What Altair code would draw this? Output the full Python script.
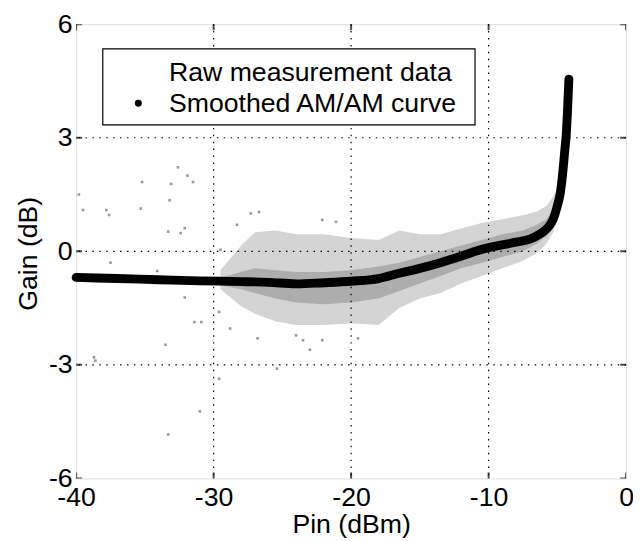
import altair as alt
import pandas as pd

# ---------------- data ----------------
x_ticks = [-40, -30, -20, -10, 0]
y_ticks = [-6, -3, 0, 3, 6]
x_grid = [-30, -20, -10]
y_grid = [-3, 0, 3]

# smoothed AM/AM curve (Pin dBm, Gain dB)
curve_pin = [-40, -37, -34, -31, -28, -26, -24, -22, -20, -18, -16.5, -15, -13.5,
             -12, -10.5, -9, -8, -7, -6.3, -5.7, -5.3, -5.0, -4.78, -4.6, -4.45,
             -4.35, -4.25, -4.16]
curve_gain = [-0.69, -0.72, -0.75, -0.78, -0.80, -0.82, -0.86, -0.83, -0.79, -0.72,
              -0.58, -0.45, -0.30, -0.13, 0.05, 0.17, 0.24, 0.32, 0.45, 0.62, 0.85,
              1.2, 1.55, 2.1, 2.7, 3.1, 3.8, 4.55]

# envelope of the dense raw-measurement cloud
band_pin = [-29.5, -28, -27, -25.5, -24, -22, -20, -18, -16.5, -15, -13.5, -12,
            -10.5, -9, -7.5, -6.5, -5.8, -5.3, -4.9]
outer_hi = [-0.5, 0.15, 0.5, 0.55, 0.45, 0.45, 0.35, 0.3, 0.55, 0.45, 0.45, 0.6,
            0.75, 0.85, 0.95, 1.05, 1.2, 1.45, 1.7]
outer_lo = [-1.0, -1.45, -1.65, -1.85, -1.95, -1.95, -1.9, -1.95, -1.5, -1.25, -1.1,
            -0.85, -0.65, -0.45, -0.25, -0.05, 0.2, 0.5, 1.1]
inner_hi = [-0.7, -0.55, -0.45, -0.5, -0.55, -0.55, -0.5, -0.4, -0.3, -0.15, 0.0,
            0.15, 0.3, 0.45, 0.55, 0.7, 0.85, 1.1, 1.5]
inner_lo = [-0.9, -1.0, -1.1, -1.25, -1.35, -1.4, -1.35, -1.25, -1.05, -0.85, -0.65,
            -0.45, -0.3, -0.15, 0.0, 0.2, 0.4, 0.7, 1.2]

# sparse raw-measurement points outside the dense cloud
raw_pin = [-39.8, -39.5, -37.8, -37.6, -35.2, -35.3, -32.6, -31.9, -31.5, -33.1,
           -33.2, -33.3, -32.4, -32.1, -37.5, -34.1, -29.5, -32.1, -31.4, -30.9,
           -29.6, -33.5, -38.7, -38.6, -31.0, -33.3, -29.6, -27.3, -26.7, -22.1,
           -21.1, -24.0, -23.5, -26.8, -22.1, -28.8, -25.4, -28.3, -23.0, -19.5]
raw_gain = [1.5, 1.09, 1.09, 0.96, 1.83, 1.13, 2.22, 2.0, 1.83, 1.78,
            1.35, 0.52, 0.48, 0.61, -0.3, -0.52, 0.04, -1.22, -1.87, -1.87,
            -1.6, -2.47, -2.8, -2.89, -4.23, -4.84, -3.37, 1.0, 1.04, 0.83,
            0.78, -2.22, -2.35, -2.3, -2.35, -2.04, -3.1, 0.7, -2.6, -2.3]

legend_labels = ["Raw measurement data", "Smoothed AM/AM curve"]

FONT = "Liberation Sans"
AX_FS = 27
LEG_FS = 27

curve_df = pd.DataFrame({"pin": curve_pin, "gain": curve_gain})
band_df = pd.DataFrame({"pin": band_pin, "ohi": outer_hi, "olo": outer_lo,
                        "ihi": inner_hi, "ilo": inner_lo})
raw_df = pd.DataFrame({"pin": raw_pin, "gain": raw_gain})
xg_df = pd.DataFrame({"v": x_grid})
yg_df = pd.DataFrame({"v": y_grid})
xt_df = pd.DataFrame({"v": x_ticks})
yt_df = pd.DataFrame({"v": y_ticks})
one = pd.DataFrame({"a": [0]})

xscale = alt.Scale(domain=[-40, 0], nice=False, zero=False)
yscale = alt.Scale(domain=[-6, 6], nice=False, zero=False)

xaxis = alt.Axis(values=x_ticks, title="Pin (dBm)", grid=False, ticks=False, domain=False,
                 labelFont=FONT, labelFontSize=AX_FS, labelColor="black", labelPadding=6,
                 labelFlush=False, labelExpr="'' + datum.value",
                 titleFont=FONT, titleFontSize=AX_FS, titleFontWeight="normal", titleColor="black",
                 titleBaseline="alphabetic", titleY=55)
yaxis = alt.Axis(values=y_ticks, title="Gain (dB)", grid=False, ticks=False, domain=False,
                 labelFont=FONT, labelFontSize=AX_FS, labelColor="black", labelPadding=4,
                 labelFlush=False, labelExpr="'' + datum.value",
                 titleFont=FONT, titleFontSize=AX_FS, titleFontWeight="normal", titleColor="black",
                 titleBaseline="middle", titleX=-48, titleY=232)

outer = alt.Chart(band_df).mark_area(color="#d4d4d4").encode(
    x=alt.X("pin:Q", scale=xscale, axis=xaxis),
    y=alt.Y("ohi:Q", scale=yscale, axis=yaxis),
    y2="olo:Q",
)
inner = alt.Chart(band_df).mark_area(color="#adadad").encode(
    x=alt.X("pin:Q", scale=xscale),
    y=alt.Y("ihi:Q", scale=yscale),
    y2="ilo:Q",
)
raw = alt.Chart(raw_df).mark_square(color="#9a9a9a", size=7, opacity=1).encode(
    x=alt.X("pin:Q", scale=xscale),
    y=alt.Y("gain:Q", scale=yscale),
)
vgrid = alt.Chart(xg_df).mark_rule(color="black", strokeWidth=1.2, strokeDash=[1.5, 5.5]).encode(
    x=alt.X("v:Q", scale=xscale)
)
hgrid = alt.Chart(yg_df).mark_rule(color="black", strokeWidth=1.2, strokeDash=[1.5, 5.5]).encode(
    y=alt.Y("v:Q", scale=yscale)
)
curve = alt.Chart(curve_df).mark_line(color="black", strokeWidth=9, strokeCap="round",
                                      strokeJoin="round", interpolate="monotone").encode(
    x=alt.X("pin:Q", scale=xscale),
    y=alt.Y("gain:Q", scale=yscale),
)
# inward ticks on all four sides
xt_bot = alt.Chart(xt_df).mark_tick(color="black", thickness=2, size=12, clip=True).encode(
    x=alt.X("v:Q", scale=xscale), y=alt.datum(-6, scale=yscale)
)
xt_top = alt.Chart(xt_df).mark_tick(color="black", thickness=2, size=12, clip=True).encode(
    x=alt.X("v:Q", scale=xscale), y=alt.datum(6, scale=yscale)
)
yt_left = alt.Chart(yt_df).mark_tick(color="black", thickness=2, size=12, clip=True,
                                     orient="horizontal").encode(
    y=alt.Y("v:Q", scale=yscale), x=alt.datum(-40, scale=xscale)
)
yt_right = alt.Chart(yt_df).mark_tick(color="black", thickness=2, size=12, clip=True,
                                      orient="horizontal").encode(
    y=alt.Y("v:Q", scale=yscale), x=alt.datum(0, scale=xscale)
)

# legend box
leg_box = alt.Chart(one).mark_rect(fill="white", stroke="black", strokeWidth=1.2).encode(
    x=alt.value(27), x2=alt.value(404), y=alt.value(25), y2=alt.value(102)
)
leg_t1 = alt.Chart(one).mark_text(align="left", baseline="alphabetic", font=FONT,
                                  fontSize=LEG_FS, color="black").encode(
    x=alt.value(94), y=alt.value(58), text=alt.value(legend_labels[0])
)
leg_t2 = alt.Chart(one).mark_text(align="left", baseline="alphabetic", font=FONT,
                                  fontSize=LEG_FS, color="black").encode(
    x=alt.value(94), y=alt.value(89), text=alt.value(legend_labels[1])
)
leg_dot = alt.Chart(one).mark_circle(color="black", size=50, opacity=1).encode(
    x=alt.value(63), y=alt.value(80)
)

chart = alt.layer(
    outer, inner, raw, vgrid, hgrid, curve, xt_bot, xt_top, yt_left, yt_right,
    leg_box, leg_t1, leg_t2, leg_dot
).properties(
    width=557, height=460,
    autosize=alt.AutoSizeParams(type="none"),
    padding={"left": 69, "top": 13, "right": 7, "bottom": 60},
).configure_view(
    stroke="black", strokeWidth=2.5
).configure(background="white")

chart.save("out.html", embed_options={"renderer": "svg", "actions": False})
